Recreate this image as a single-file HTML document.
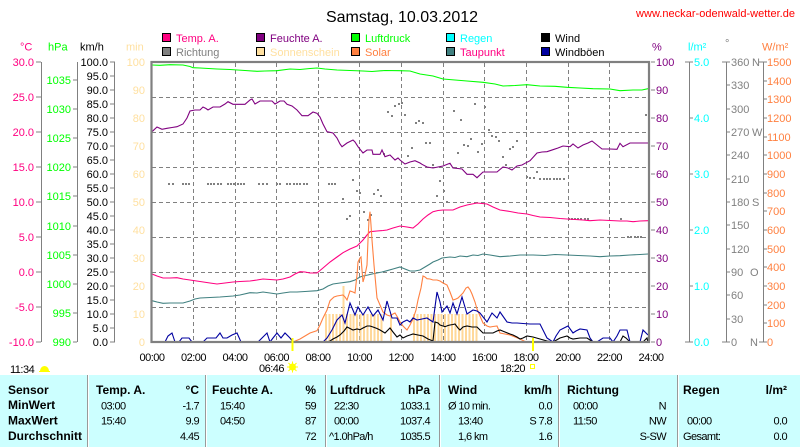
<!DOCTYPE html>
<html><head><meta charset="utf-8"><style>
html,body{margin:0;padding:0;background:#fff;}
svg{display:block;font-family:"Liberation Sans",sans-serif;}
.t11{font-size:11px;}
.b12{font-size:12px;font-weight:bold;}
.d{font-size:11px;letter-spacing:-0.6px;}
</style></head><body>
<svg width="800" height="447" viewBox="0 0 800 447" xmlns="http://www.w3.org/2000/svg">
<rect x="0" y="0" width="800" height="447" fill="#fff"/>
<!-- title -->
<text x="402" y="22" font-size="16" text-anchor="middle" fill="#000">Samstag, 10.03.2012</text>
<text x="636" y="17" font-size="11" fill="#ff0000" textLength="159">www.neckar-odenwald-wetter.de</text>

<!-- legend -->
<g stroke="#000" stroke-width="1" shape-rendering="crispEdges">
<rect x="162.5" y="33.5" width="8" height="8" fill="#ff0080"/>
<rect x="256.5" y="33.5" width="8" height="8" fill="#800080"/>
<rect x="351.5" y="33.5" width="8" height="8" fill="#00ff00"/>
<rect x="446.5" y="33.5" width="8" height="8" fill="#00ffff"/>
<rect x="541.5" y="33.5" width="8" height="8" fill="#000000"/>
<rect x="162.5" y="47.5" width="8" height="8" fill="#808080"/>
<rect x="256.5" y="47.5" width="8" height="8" fill="#ffe0a0"/>
<rect x="351.5" y="47.5" width="8" height="8" fill="#ff8040"/>
<rect x="446.5" y="47.5" width="8" height="8" fill="#408080"/>
<rect x="541.5" y="47.5" width="8" height="8" fill="#0000a0"/>
</g>
<g class="t11">
<text x="176" y="42" fill="#ff0080">Temp. A.</text>
<text x="270" y="42" fill="#800080">Feuchte A.</text>
<text x="365" y="42" fill="#00ff00">Luftdruck</text>
<text x="460" y="42" fill="#00ffff">Regen</text>
<text x="555" y="42" fill="#000">Wind</text>
<text x="176" y="56" fill="#808080">Richtung</text>
<text x="270" y="56" fill="#ffe0a0">Sonnenschein</text>
<text x="365" y="56" fill="#ff8040">Solar</text>
<text x="460" y="56" fill="#ff0080">Taupunkt</text>
<text x="555" y="56" fill="#000">Windböen</text>
</g>

<!-- unit labels -->
<g class="t11">
<text x="20" y="50.5" fill="#ff0080">°C</text>
<text x="48" y="50.5" fill="#00ff00">hPa</text>
<text x="80" y="50.5" fill="#000">km/h</text>
<text x="126" y="50.5" fill="#ffe0a0">min</text>
<text x="652" y="50.5" fill="#800080">%</text>
<text x="688" y="50.5" fill="#00ffff">l/m²</text>
<text x="725" y="47" fill="#808080">°</text>
<text x="762" y="50.5" fill="#ff8040">W/m²</text>
</g>

<!-- axis lines and ticks -->
<g stroke="#808080" stroke-width="1" fill="none" shape-rendering="crispEdges">
<path d="M41.5,62V342 M36,62H41 M36,97H41 M36,132H41 M36,167H41 M36,202H41 M36,237H41 M36,272H41 M36,307H41 M36,342H41"/>
<path d="M77.5,62V342 M73,80H77 M73,109H77 M73,138H77 M73,167H77 M73,196H77 M73,226H77 M73,255H77 M73,284H77 M73,313H77 M73,342H77"/>
<path d="M114.5,62V342 M110,62H115 M110,76H115 M110,90H115 M110,104H115 M110,118H115 M110,132H115 M110,146H115 M110,160H115 M110,174H115 M110,188H115 M110,202H115 M110,216H115 M110,230H115 M110,244H115 M110,258H115 M110,272H115 M110,286H115 M110,300H115 M110,314H115 M110,328H115 M110,342H115"/>
<path d="M651,62H655 M651,90H655 M651,118H655 M651,146H655 M651,174H655 M651,202H655 M651,230H655 M651,258H655 M651,286H655 M651,314H655 M651,342H655"/>
<path d="M689.5,62V342 M685,62H693 M689,118H693 M689,174H693 M689,230H693 M689,286H693 M685,342H693"/>
<path d="M726.5,62V342 M722,62H730 M726,85H730 M726,109H730 M726,132H730 M726,155H730 M726,179H730 M726,202H730 M726,225H730 M726,249H730 M726,272H730 M726,295H730 M726,319H730 M722,342H730"/>
<path d="M763.5,62V342 M759,62H767 M763,81H767 M763,99H767 M763,118H767 M763,137H767 M763,155H767 M763,174H767 M763,193H767 M763,211H767 M763,230H767 M763,249H767 M763,267H767 M763,286H767 M763,305H767 M763,323H767 M759,342H767"/>
</g>

<!-- left axis labels -->
<g class="t11" fill="#ff0080" text-anchor="end">
<text x="34" y="66">30.0</text><text x="34" y="101">25.0</text><text x="34" y="136">20.0</text><text x="34" y="171">15.0</text><text x="34" y="206">10.0</text><text x="34" y="241">5.0</text><text x="34" y="276">0.0</text><text x="34" y="311">-5.0</text><text x="34" y="346">-10.0</text>
</g>
<g class="t11" fill="#00ff00" text-anchor="end">
<text x="71" y="84">1035</text><text x="71" y="113">1030</text><text x="71" y="142">1025</text><text x="71" y="171">1020</text><text x="71" y="200">1015</text><text x="71" y="230">1010</text><text x="71" y="259">1005</text><text x="71" y="288">1000</text><text x="71" y="317">995</text><text x="71" y="346">990</text>
</g>
<g class="t11" fill="#000" text-anchor="end">
<text x="108" y="66">100.0</text><text x="108" y="80">95.0</text><text x="108" y="94">90.0</text><text x="108" y="108">85.0</text><text x="108" y="122">80.0</text><text x="108" y="136">75.0</text><text x="108" y="150">70.0</text><text x="108" y="164">65.0</text><text x="108" y="178">60.0</text><text x="108" y="192">55.0</text><text x="108" y="206">50.0</text><text x="108" y="220">45.0</text><text x="108" y="234">40.0</text><text x="108" y="248">35.0</text><text x="108" y="262">30.0</text><text x="108" y="276">25.0</text><text x="108" y="290">20.0</text><text x="108" y="304">15.0</text><text x="108" y="318">10.0</text><text x="108" y="332">5.0</text><text x="108" y="346">0.0</text>
</g>
<g class="t11" fill="#ffe0a0" text-anchor="end">
<text x="145" y="66">100</text><text x="145" y="94">90</text><text x="145" y="122">80</text><text x="145" y="150">70</text><text x="145" y="178">60</text><text x="145" y="206">50</text><text x="145" y="234">40</text><text x="145" y="262">30</text><text x="145" y="290">20</text><text x="145" y="318">10</text><text x="145" y="346">0</text>
</g>

<!-- right axis labels -->
<g class="t11" fill="#800080">
<text x="656" y="66">100</text><text x="656" y="94">90</text><text x="656" y="122">80</text><text x="656" y="150">70</text><text x="656" y="178">60</text><text x="656" y="206">50</text><text x="656" y="234">40</text><text x="656" y="262">30</text><text x="656" y="290">20</text><text x="656" y="318">10</text><text x="656" y="346">0</text>
</g>
<g class="t11" fill="#00ffff">
<text x="694" y="66">5.0</text><text x="694" y="122">4.0</text><text x="694" y="178">3.0</text><text x="694" y="234">2.0</text><text x="694" y="290">1.0</text><text x="694" y="346">0.0</text>
</g>
<g class="t11" fill="#808080">
<text x="731" y="66">360</text><text x="731" y="89">330</text><text x="731" y="113">300</text><text x="731" y="136">270</text><text x="731" y="159">240</text><text x="731" y="183">210</text><text x="731" y="206">180</text><text x="731" y="229">150</text><text x="731" y="253">120</text><text x="731" y="276">90</text><text x="731" y="299">60</text><text x="731" y="323">30</text><text x="731" y="346">0</text>
<text x="752" y="66">N</text><text x="752" y="136">W</text><text x="752" y="206">S</text><text x="750" y="276">O</text><text x="750" y="346">N</text>
</g>
<g class="t11" fill="#ff8040">
<text x="767" y="66">1500</text><text x="767" y="85">1400</text><text x="767" y="103">1300</text><text x="767" y="122">1200</text><text x="767" y="141">1100</text><text x="767" y="159">1000</text><text x="767" y="178">900</text><text x="767" y="197">800</text><text x="767" y="215">700</text><text x="767" y="234">600</text><text x="767" y="253">500</text><text x="767" y="271">400</text><text x="767" y="290">300</text><text x="767" y="309">200</text><text x="767" y="327">100</text><text x="767" y="346">0</text>
</g>

<!-- grid -->
<g stroke="#808080" stroke-width="1" stroke-dasharray="4,3" fill="none" shape-rendering="crispEdges">
<path d="M152,97.5H649 M152,132.5H649 M152,167.5H649 M152,202.5H649 M152,237.5H649 M152,272.5H649 M152,307.5H649"/>
<path d="M193.5,63V341 M235.5,63V341 M276.5,63V341 M318.5,63V341 M359.5,63V341 M401.5,63V341 M443.5,63V341 M484.5,63V341 M526.5,63V341 M568.5,63V341 M609.5,63V341"/>
</g>

<!-- sunshine bars -->
<g fill="#ffd89a" shape-rendering="crispEdges">
<rect x="325" y="314" width="2" height="28"/><rect x="328.5" y="314" width="2" height="28"/><rect x="332" y="314" width="2" height="28"/><rect x="335.4" y="314" width="2" height="28"/><rect x="338.9" y="314" width="2" height="28"/><rect x="342.3" y="286" width="2" height="56"/><rect x="345.8" y="314" width="2" height="28"/><rect x="349.3" y="314" width="2" height="28"/><rect x="352.7" y="314" width="2" height="28"/><rect x="356.2" y="314" width="2" height="28"/><rect x="359.7" y="314" width="2" height="28"/><rect x="363.1" y="314" width="2" height="28"/><rect x="366.6" y="314" width="2" height="28"/><rect x="370" y="314" width="2" height="28"/><rect x="373.5" y="314" width="2" height="28"/><rect x="377" y="314" width="2" height="28"/><rect x="380.4" y="314" width="2" height="28"/>
<rect x="390" y="314" width="2" height="28"/>
<rect x="413" y="314" width="2" height="28"/><rect x="416.5" y="314" width="2" height="28"/><rect x="420" y="314" width="2" height="28"/><rect x="423.4" y="314" width="2" height="28"/><rect x="426.9" y="314" width="2" height="28"/><rect x="430.3" y="314" width="2" height="28"/><rect x="433.8" y="314" width="2" height="28"/><rect x="437.3" y="314" width="2" height="28"/><rect x="440.7" y="314" width="2" height="28"/><rect x="444.2" y="314" width="2" height="28"/><rect x="447.7" y="314" width="2" height="28"/><rect x="451.1" y="314" width="2" height="28"/><rect x="454.6" y="314" width="2" height="28"/><rect x="458" y="314" width="2" height="28"/><rect x="461.5" y="314" width="2" height="28"/><rect x="465" y="314" width="2" height="28"/><rect x="468.4" y="314" width="2" height="28"/><rect x="471.9" y="314" width="2" height="28"/><rect x="475.3" y="314" width="2" height="28"/>
</g>

<!-- wind direction dots -->
<g fill="#808080">
<rect x="168" y="183" width="2" height="2"/><rect x="172" y="183" width="2" height="2"/><rect x="182" y="183" width="2" height="2"/><rect x="185" y="183" width="2" height="2"/><rect x="188" y="183" width="2" height="2"/><rect x="207" y="183" width="2" height="2"/><rect x="210" y="183" width="2" height="2"/><rect x="213" y="183" width="2" height="2"/><rect x="217" y="183" width="2" height="2"/><rect x="220" y="183" width="2" height="2"/><rect x="227" y="183" width="2" height="2"/><rect x="230" y="183" width="2" height="2"/><rect x="233" y="183" width="2" height="2"/><rect x="237" y="183" width="2" height="2"/><rect x="240" y="183" width="2" height="2"/><rect x="243" y="183" width="2" height="2"/><rect x="258" y="183" width="2" height="2"/><rect x="262" y="183" width="2" height="2"/><rect x="266" y="183" width="2" height="2"/><rect x="276" y="183" width="2" height="2"/><rect x="279" y="183" width="2" height="2"/><rect x="286" y="183" width="2" height="2"/><rect x="289" y="183" width="2" height="2"/><rect x="293" y="183" width="2" height="2"/><rect x="296" y="183" width="2" height="2"/><rect x="299" y="183" width="2" height="2"/><rect x="303" y="183" width="2" height="2"/><rect x="306" y="183" width="2" height="2"/><rect x="328" y="183" width="2" height="2"/><rect x="331" y="183" width="2" height="2"/><rect x="334" y="183" width="2" height="2"/>
<rect x="342" y="198" width="2" height="2"/><rect x="352" y="179" width="2" height="2"/><rect x="356" y="190" width="2" height="2"/><rect x="359" y="192" width="2" height="2"/><rect x="373" y="193" width="2" height="2"/><rect x="377" y="189" width="2" height="2"/><rect x="380" y="195" width="2" height="2"/><rect x="383" y="153" width="2" height="2"/><rect x="387" y="111" width="2" height="2"/><rect x="391" y="115" width="2" height="2"/><rect x="394" y="105" width="2" height="2"/><rect x="398" y="103" width="2" height="2"/>
<rect x="349" y="215" width="2" height="2"/><rect x="346" y="218" width="2" height="2"/><rect x="363" y="211" width="2" height="2"/><rect x="367" y="219" width="2" height="2"/><rect x="370" y="214" width="2" height="2"/>
<rect x="401" y="102" width="2" height="2"/><rect x="404" y="114" width="2" height="2"/><rect x="415" y="122" width="2" height="2"/><rect x="418" y="120" width="2" height="2"/><rect x="422" y="122" width="2" height="2"/><rect x="453" y="110" width="2" height="2"/><rect x="460" y="119" width="2" height="2"/><rect x="474" y="103" width="2" height="2"/><rect x="484" y="106" width="2" height="2"/><rect x="488" y="129" width="2" height="2"/><rect x="491" y="135" width="2" height="2"/><rect x="495" y="136" width="2" height="2"/><rect x="498" y="140" width="2" height="2"/><rect x="470" y="138" width="2" height="2"/><rect x="463" y="144" width="2" height="2"/><rect x="467" y="145" width="2" height="2"/><rect x="481" y="143" width="2" height="2"/><rect x="477" y="151" width="2" height="2"/><rect x="457" y="152" width="2" height="2"/><rect x="425" y="142" width="2" height="2"/><rect x="429" y="142" width="2" height="2"/><rect x="411" y="147" width="2" height="2"/><rect x="407" y="155" width="2" height="2"/><rect x="432" y="164" width="2" height="2"/><rect x="439" y="180" width="2" height="2"/><rect x="436" y="195" width="2" height="2"/><rect x="443" y="190" width="2" height="2"/><rect x="446" y="201" width="2" height="2"/><rect x="502" y="156" width="2" height="2"/><rect x="505" y="164" width="2" height="2"/><rect x="509" y="148" width="2" height="2"/><rect x="512" y="146" width="2" height="2"/><rect x="516" y="140" width="2" height="2"/><rect x="526" y="176" width="2" height="2"/><rect x="529" y="177" width="2" height="2"/><rect x="533" y="177" width="2" height="2"/><rect x="536" y="171" width="2" height="2"/><rect x="539" y="178" width="2" height="2"/><rect x="543" y="178" width="2" height="2"/><rect x="546" y="178" width="2" height="2"/><rect x="549" y="178" width="2" height="2"/><rect x="553" y="178" width="2" height="2"/><rect x="556" y="178" width="2" height="2"/><rect x="559" y="178" width="2" height="2"/><rect x="563" y="178" width="2" height="2"/><rect x="645" y="114" width="2" height="2"/><rect x="648" y="114" width="2" height="2"/>
<rect x="568" y="218" width="2" height="2"/><rect x="571" y="218" width="2" height="2"/><rect x="574" y="218" width="2" height="2"/><rect x="577" y="218" width="2" height="2"/><rect x="580" y="218" width="2" height="2"/><rect x="584" y="218" width="2" height="2"/><rect x="587" y="218" width="2" height="2"/><rect x="620" y="218" width="2" height="2"/>
<rect x="627" y="236" width="2" height="2"/><rect x="630" y="236" width="2" height="2"/><rect x="634" y="236" width="2" height="2"/><rect x="637" y="236" width="2" height="2"/><rect x="640" y="236" width="2" height="2"/>
</g>

<!-- series -->
<g fill="none" stroke-width="1.1" stroke-linejoin="miter">
<polyline stroke="#00ff00" points="152,65 160,65.3 170,64.7 183,65 190,66.5 193,67.7 200,68 217,69 230,69.5 245,70.5 257,71.3 265,71 277,70.7 290,69 300,69.5 310,68.5 317,68 325,69 337,70 350,70.5 363,71 372,71.5 385,70.5 400,70.7 410,71 420,74 433,76 443,79 455,80 467,81 483,82.3 495,84 503,86 515,85.5 527,84.7 540,86 555,86.3 567,87.3 580,88 593,88.7 610,89 620,90.7 633,90 642,90 648,88.7"/>
<polyline stroke="#800080" points="152,131.7 157,127 162,129.3 167,128.3 172,127.5 177,126.7 183,124 187,118 190,111 195,110 200,110 203,107 206,108.5 208,110 213,107 220,107 225,104 228,101.7 233,104.3 240,104.3 245,104.3 250,100 252,99 255,104 260,101 267,101 272,101 275,104 280,101 284,101 287,104.3 292,106 297,110 302,115.7 308,115.7 313,112 317,113.3 320,117 323,124 327,131.7 333,133 337,138 340,144 342,146.7 347,143 353,140 355,142 358,146.7 363,153 367,150 372,150 373,154.3 380,154.3 382,150 385,156.7 390,155 395,160 398,158 400,160 405,164 410,162 415,160.7 420,163 422,164.3 427,167 433,168 438,167 443,166 448,164 450,163.3 453,168 458,168.5 462,169 467,174.3 473,174.3 477,177.7 483,172 490,172 497,172 503,167 508,168 512,170 517,166 522,165 525,163.3 530,160.7 537,153 542,152 547,151.7 553,149.7 558,148 563,146 570,146.7 573,144 578,148 583,145 588,143 592,141 597,145 602,149 610,149 617,149.3 620,143.3 623,146.7 630,143 648,143"/>
<polyline stroke="#ff0080" points="152,274 157,276 163,278 170,278 177,277.7 183,279 190,280 200,281.5 210,283 217,284 225,283 233,282 240,281.5 250,281 257,280 263,279 270,279.5 277,280 283,279 290,277 295,274 300,271.7 305,272 310,273 317,273 323,268 330,262 337,257 343,252.7 350,249 357,246 363,240 367,235 370,231.7 377,231 383,230.5 387,230 393,228 400,226 407,227 413,228 418,224 423,219 428,215 433,211.7 438,210.5 443,210 448,210 453,210 460,207 467,205 472,204 477,203 482,203.5 487,204 493,207 500,210 510,211.5 518,213 527,214 533,215.5 540,217 550,217.5 560,218.5 567,219 575,219.5 583,220 590,220.7 600,220 610,220.5 620,221 627,221 633,221.7 640,221 648,220.7"/>
<polyline stroke="#408080" points="152,300.7 157,302 163,303.3 170,303 177,303 183,303 190,301 195,299 200,298 210,297.5 220,297 233,296 240,295 250,292.7 257,293 263,292 270,293 277,294 283,293 290,292 297,292 305,291.5 317,290.7 323,289 328,286 333,284 340,283 350,281.7 355,280 360,277 363,276 368,275 372,274 377,273 382,272 387,270.7 393,269 400,267 405,269 410,271 415,271 420,270 425,267 430,264 433,262 438,260 442,258 450,257 455,257.5 460,256 467,256.7 473,255 478,255.5 483,254 490,255 500,256.7 510,256 520,255 533,255 545,255.5 555,254.5 567,255 578,255.5 590,256 600,256.7 610,256 620,255.7 630,255 640,254.5 648,254"/>
<polyline stroke="#ff8040" points="293,342 300,339 305,336 310,333 317,330.7 320,325 323,318 327,310 330,300.7 334,297 337,296 340,295.5 343,295 345,297 347,300 350,291 353,292 355,293 357,275 358,262 360,258 361,257 362,270 363,282 365,275 367,265 368,240 369,220 370,211.7 371,225 372,240 374,265 377,298 380,305 383,312 387,315 390,316 393,314 395,313 398,318 400,322 403,326 407,330 410,325 413,319 416,310 418,300 421,288 423,276 425,277 427,278.7 430,279 433,280 437,280 440,281 443,283 447,285 450,292 453,300 456,299 458,298 461,295 463,293 466,288 468,287 470,289.7 472,294 475,302 477,309 480,316 483,323 487,326 490,327 493,326.5 497,326 500,333 505,334 510,335 515,337 520,339 524,341 527,342"/>
<polyline stroke="#0000a0" points="152,342 165,342 168,336 172,333 175,342 179,342 182,338 189,338 192,342 203,342 207,338 216,338 220,333 223,338 227,338 232,335 237,333 241,342 258,342 262,338 267,333 270,342 273,338 277,333 281,338 285,333 290,338 293,342 323,342 327,338 332,330 337,320 342,315 345,323 350,303 355,315 358,307 363,315 368,307 373,316 378,310 383,320 387,301 392,318 397,318 400,325 403,322 407,320 410,322 413,318 417,320 422,319 427,318 433,322 437,292 440,302 442,312 447,306 450,313 453,303 457,314 462,297 467,314 470,312 473,310 477,311 480,313 487,322 492,313 497,318 500,312 507,322 512,323 517,323 523,323.5 530,324 540,324 547,338 553,342 556,336 560,330 564,328 568,326 573,333 576,331 580,329 587,330 590,338 593,342 597,342 603,338 610,338 613,342 617,336 620,330 627,330 630,342 640,342 643,330 648,335"/>
<polyline stroke="#000000" points="152,342 327,342 330,341 333,339 337,337 340,335 344,331 347,327 350,328.5 353,330 357,329 360,329.7 363,328 367,326 370,326 373,327 377,328.5 380,330 385,333 388,330 390,328 393,332 397,337 400,335 403,338 407,336 410,335 413,334 418,335 423,336 428,339 433,341 435,322 438,323 440,325 443,326 445,326.7 448,325.5 450,325 453,324.5 455,324 458,328 460,330 463,327 467,326 472,327 477,327 480,330 483,333 488,333 493,333 497,331 500,330 505,332 510,334 513,335 517,337 520,339 523,338 527,336 533,337 540,339 547,341 553,342 560,338 567,336 570,338 573,339 580,338 587,338 590,340 593,342 620,342 623,336 626,338 630,342 643,342 647,338 648,342"/>
</g>

<!-- plot frame -->
<rect x="151.5" y="62" width="497.5" height="280" fill="none" stroke="#808080" stroke-width="2.2"/>

<!-- x-axis labels -->
<g class="t11" fill="#000" text-anchor="middle" letter-spacing="-0.5">
<text x="152" y="361">00:00</text><text x="193.5" y="361">02:00</text><text x="235" y="361">04:00</text><text x="276.5" y="361">06:00</text><text x="318" y="361">08:00</text><text x="359.5" y="361">10:00</text><text x="401" y="361">12:00</text><text x="443" y="361">14:00</text><text x="484.5" y="361">16:00</text><text x="526" y="361">18:00</text><text x="568" y="361">20:00</text><text x="609.5" y="361">22:00</text><text x="651" y="361">24:00</text>
</g>

<!-- sunrise / sunset -->
<rect x="291.5" y="338" width="2" height="13" fill="#ffff00"/>
<rect x="532" y="338" width="2" height="13" fill="#ffff00"/>
<g class="t11" fill="#000" letter-spacing="-0.5">
<text x="259" y="372">06:46</text>
<text x="500" y="372">18:20</text>
<text x="10" y="373">11:34</text>
</g>
<g fill="#ffff00">
<circle cx="292.5" cy="367" r="3.5"/>
<path d="M292.5,361.5V372.5 M287,367H298 M288.5,363L296.5,371 M296.5,363L288.5,371" stroke="#ffff00" stroke-width="1"/>
<path d="M40,371 A4.5,5 0 0 1 49,371 Z"/>
<path d="M39,371.5H50" stroke="#ffff00" stroke-width="1"/>
</g>
<rect x="530.5" y="364.5" width="4" height="4" fill="none" stroke="#ffff00" stroke-width="1"/>

<!-- table -->
<rect x="0" y="375" width="800" height="72" fill="#ccffff"/>
<g shape-rendering="crispEdges">
<path d="M87.5,375V447 M205.5,375V447 M325.5,375V447 M439.5,375V447 M558.5,375V447 M677.5,375V447" stroke="#999999" stroke-width="1"/>
<path d="M88.5,375V447 M206.5,375V447 M326.5,375V447 M440.5,375V447 M559.5,375V447 M678.5,375V447" stroke="#ffffff" stroke-width="1"/>
</g>
<g class="b12" fill="#000">
<text x="8" y="394">Sensor</text>
<text x="96" y="394">Temp. A.</text>
<text x="199" y="394" text-anchor="end">°C</text>
<text x="212" y="394">Feuchte A.</text>
<text x="316" y="394" text-anchor="end">%</text>
<text x="330" y="394">Luftdruck</text>
<text x="430" y="394" text-anchor="end">hPa</text>
<text x="448" y="394">Wind</text>
<text x="552" y="394" text-anchor="end">km/h</text>
<text x="567" y="394">Richtung</text>
<text x="683" y="394">Regen</text>
<text x="787" y="394" text-anchor="end">l/m²</text>
<text x="8" y="409">MinWert</text>
<text x="8" y="424.5">MaxWert</text>
<text x="8" y="440">Durchschnitt</text>
</g>
<g class="d" fill="#000">
<text x="101" y="409.5">03:00</text>
<text x="199" y="409.5" text-anchor="end">-1.7</text>
<text x="220" y="409.5">15:40</text>
<text x="316" y="409.5" text-anchor="end">59</text>
<text x="334" y="409.5">22:30</text>
<text x="430" y="409.5" text-anchor="end">1033.1</text>
<text x="448" y="409.5">Ø 10 min.</text>
<text x="552" y="409.5" text-anchor="end">0.0</text>
<text x="573" y="409.5">00:00</text>
<text x="666" y="409.5" text-anchor="end">N</text>

<text x="101" y="424.5">15:40</text>
<text x="199" y="424.5" text-anchor="end">9.9</text>
<text x="220" y="424.5">04:50</text>
<text x="316" y="424.5" text-anchor="end">87</text>
<text x="334" y="424.5">00:00</text>
<text x="430" y="424.5" text-anchor="end">1037.4</text>
<text x="458" y="424.5">13:40</text>
<text x="552" y="424.5" text-anchor="end">S 7.8</text>
<text x="573" y="424.5">11:50</text>
<text x="666" y="424.5" text-anchor="end">NW</text>
<text x="687" y="424.5">00:00</text>
<text x="787" y="424.5" text-anchor="end">0.0</text>

<text x="199" y="440" text-anchor="end">4.45</text>
<text x="316" y="440" text-anchor="end">72</text>
<text x="329" y="440">^1.0hPa/h</text>
<text x="430" y="440" text-anchor="end">1035.5</text>
<text x="458" y="440">1,6 km</text>
<text x="552" y="440" text-anchor="end">1.6</text>
<text x="666" y="440" text-anchor="end">S-SW</text>
<text x="683" y="440">Gesamt:</text>
<text x="787" y="440" text-anchor="end">0.0</text>
</g>
</svg>
</body></html>
